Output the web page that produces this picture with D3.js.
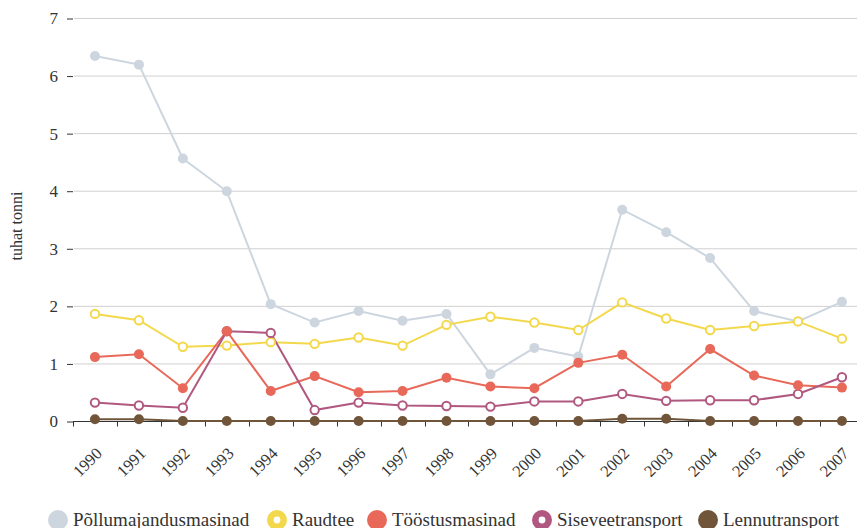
<!DOCTYPE html>
<html>
<head>
<meta charset="utf-8">
<script src="https://cdn.jsdelivr.net/npm/d3@7"></script>
<style>
  html, body { margin: 0; padding: 0; background: #fff; }
  svg { display: block; font-family: "Liberation Serif", "DejaVu Serif", serif; }
</style>
</head>
<body>
<svg id="chart" width="857" height="528"></svg>
<script>
// Years on the x axis
const years = ["1990","1991","1992","1993","1994","1995","1996","1997","1998",
               "1999","2000","2001","2002","2003","2004","2005","2006","2007"];

// Emissions by source, thousand tonnes
const pollumajandus = [6.34,6.19,4.56,3.99,2.03,1.71,1.91,1.74,1.86,0.81,1.27,1.12,3.67,3.28,2.83,1.91,1.73,2.07];
const raudtee       = [1.86,1.75,1.29,1.31,1.37,1.34,1.45,1.31,1.67,1.81,1.71,1.58,2.06,1.78,1.58,1.65,1.73,1.43];
const toostus       = [1.11,1.16,0.57,1.56,0.52,0.78,0.50,0.52,0.75,0.60,0.57,1.01,1.15,0.60,1.25,0.79,0.62,0.58];
const siseveed      = [0.32,0.27,0.23,1.56,1.53,0.19,0.32,0.27,0.26,0.25,0.34,0.34,0.47,0.35,0.36,0.36,0.47,0.76];
const lennu         = [0.03,0.03,0.00,0.00,0.00,0.00,0.00,0.00,0.00,0.00,0.00,0.00,0.04,0.04,0.00,0.00,0.00,0.00];

const yTicks = [0,1,2,3,4,5,6,7];
const yTitle = "tuhat tonni";

const series = [
  { name: "Põllumajandusmasinad", values: pollumajandus, color: "#cdd6df", open: false },
  { name: "Raudtee",              values: raudtee,       color: "#f4d84b", open: true  },
  { name: "Tööstusmasinad",       values: toostus,       color: "#e8695a", open: false },
  { name: "Siseveetransport",     values: siseveed,      color: "#b0587f", open: true  },
  { name: "Lennutransport",       values: lennu,         color: "#70553a", open: false }
];

const svg = d3.select("#chart");
const plotLeft = 73, plotTop = 18, plotBottom = 421;

const x = d3.scaleBand().domain(years).range([plotLeft, plotLeft + 18 * 43.94]).padding(0);
const xc = d => x(d) + x.bandwidth() / 2;
const y = d3.scaleLinear().domain([0, 7]).range([plotBottom, plotTop]);

// horizontal grid
svg.append("g").selectAll("line").data(yTicks.filter(t => t > 0)).join("line")
  .attr("x1", plotLeft + 1).attr("x2", 857)
  .attr("y1", d => y(d) + 0.5).attr("y2", d => y(d) + 0.5)
  .attr("stroke", "#d0d0d0").attr("stroke-width", 1);

// y axis (ticks and labels only)
const yAxis = svg.append("g").attr("transform", `translate(${plotLeft},0.5)`)
  .call(d3.axisLeft(y).tickValues(yTicks).tickSize(6).tickPadding(9).tickFormat(d3.format("d")));
yAxis.attr("font-family", null);
yAxis.select(".domain").remove();
yAxis.selectAll(".tick line").attr("stroke", "#333");
yAxis.selectAll("text").attr("font-size", 17).attr("fill", "#333");

// x axis: ticks sit on band boundaries
const xg = svg.append("g").attr("transform", `translate(0,${plotBottom + 0.5})`);
const bounds = years.map(d => x(d)).concat([x(years[years.length - 1]) + x.bandwidth()]);
xg.append("line").attr("x1", plotLeft).attr("x2", 857).attr("stroke", "#333");
xg.selectAll("line.tk").data(bounds).join("line").attr("class", "tk")
  .attr("x1", d => Math.round(d) + 0.5).attr("x2", d => Math.round(d) + 0.5)
  .attr("y1", 0).attr("y2", 5).attr("stroke", "#333");
xg.selectAll("text").data(years).join("text")
  .attr("transform", d => `translate(${xc(d) + 8},${33}) rotate(-45)`)
  .attr("text-anchor", "end")
  .attr("font-size", 16.5).attr("fill", "#333")
  .text(d => d);

// y title
svg.append("text")
  .attr("transform", `translate(22,226) rotate(-90)`)
  .attr("text-anchor", "middle").attr("font-size", 16).attr("fill", "#333")
  .text(yTitle);

// lines
const line = d3.line().x((d, i) => xc(years[i])).y(d => y(d));
svg.append("g").selectAll("path").data(series).join("path")
  .attr("d", s => line(s.values))
  .attr("fill", "none").attr("stroke", s => s.color).attr("stroke-width", 2);

// markers; filled markers of Tööstusmasinad sit above the open rings
const order = [0, 1, 3, 2, 4];
order.forEach(k => {
  const s = series[k];
  svg.append("g").selectAll("circle").data(s.values).join("circle")
    .attr("cx", (d, i) => xc(years[i])).attr("cy", d => y(d))
    .attr("r", s.open ? 4.2 : 5)
    .attr("fill", s.open ? "#fff" : s.color)
    .attr("stroke", s.open ? s.color : "none")
    .attr("stroke-width", s.open ? 2 : 0);
});

// legend
const legendX = [58, 277, 377, 542, 708];
const lg = svg.append("g");
series.forEach((s, i) => {
  const g = lg.append("g").attr("transform", `translate(${legendX[i]},520)`);
  if (s.open) {
    g.append("circle").attr("r", 6.7).attr("fill", "#fff").attr("stroke", s.color).attr("stroke-width", 6.6);
  } else {
    g.append("circle").attr("r", 10).attr("fill", s.color);
  }
  g.append("text").attr("x", 15).attr("y", 5.5).attr("font-size", 19).attr("fill", "#333").text(s.name);
});
</script>
</body>
</html>
